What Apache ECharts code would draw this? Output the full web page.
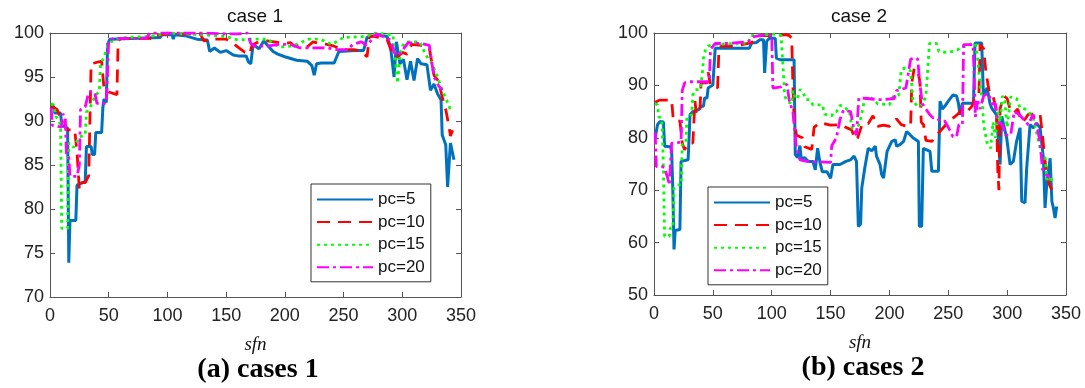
<!DOCTYPE html>
<html lang="en">
<head>
    <meta charset="UTF-8">
    <script src="https://cdn.jsdelivr.net/npm/echarts@6/dist/echarts.min.js"></script>
    <title>case 1 / case 2</title>
</head>
<body style="margin:0; background:#fff">
<div id="main" style="width:1085px; height:388px"></div>
<script>

    // x ticks, y ticks
    var xTicks = [0, 50, 100, 150, 200, 250, 300, 350];
    var yRange1 = [70, 100, 5];
    var yRange2 = [50, 100, 10];

    var seriesNames = ['pc=5', 'pc=10', 'pc=15', 'pc=20'];

    // case 1  [sfn, value]
    var c1_pc5 = [[1,91.5],[3,91.7],[4,90.9],[9,90.9],[10,89.5],[15,89.2],[16,73.9],[17,78.7],[22,78.7],[23,82.7],[30,83.1],[31,87.1],[35,87.1],[36,86.2],[38,86.2],[39,88.7],[44,88.7],[45,91.5],[46,92.5],[48,92.1],[49,98.7],[51,99.3],[75,99.4],[94,99.5],[95,99.8],[104,99.8],[105,99.3],[106,99.8],[115,99.7],[125,99.3],[134,99.2],[136,97.9],[140,98.3],[145,97.8],[150,98.0],[156,97.5],[160,97.4],[167,97.4],[169,96.7],[171,96.5],[173,98.7],[178,98.2],[182,99.1],[186,98.5],[190,97.9],[194,97.6],[200,97.3],[205,97.1],[210,96.9],[219,96.8],[223,96.3],[225,95.2],[227,96.5],[231,96.6],[242,96.6],[246,97.9],[260,98.0],[267,98.0],[270,99.5],[280,99.8],[287,99.6],[290,98.4],[293,95.0],[295,99.0],[298,96.5],[301,97.0],[304,94.7],[307,96.8],[310,94.6],[313,97.1],[316,96.5],[321,96.4],[324,93.5],[327,94.2],[330,93.1],[333,92.4],[334,88.4],[337,87.3],[338.6,82.5],[341,87.5],[344,85.6]];
    var c1_pc10 = [[1,91.7],[6,91.3],[8,90.7],[12,90.2],[14,89.0],[21,89.0],[23,86.5],[25,82.2],[27,83.0],[30,83.0],[33,83.8],[35,96.5],[44,96.8],[46,93.6],[50,93.3],[57,93.0],[58,99.0],[60,99.4],[85,99.4],[88,99.2],[91,99.7],[100,99.9],[128,99.9],[131,99.1],[140,99.3],[150,99.3],[157,98.7],[162,98.2],[166,97.8],[170,97.6],[172,98.6],[176,98.9],[185,99.1],[191,99.0],[200,98.8],[205,98.9],[208,98.5],[212,98.6],[219,98.4],[224,99.0],[230,98.8],[236,98.7],[242,98.5],[250,98.1],[259,98.1],[265,97.9],[270,97.3],[272,99.7],[280,99.5],[287,99.3],[292,97.5],[296,97.3],[300,97.8],[304,97.6],[308,98.7],[316,98.6],[323,98.3],[327,95.2],[331,94.5],[334,92.7],[337,91.3],[340,89.2],[341,88.3],[343,89.0]];
    var c1_pc15 = [[1,92.0],[3,91.8],[5,90.5],[8,90.0],[9,89.2],[10,77.8],[15,77.8],[16,87.5],[20,87.0],[25,88.2],[30,88.4],[31,91.0],[34,91.5],[39,93.0],[42,93.3],[43,96.4],[46,97.3],[49,98.5],[52,99.0],[58,99.3],[65,99.5],[85,99.6],[100,100],[130,99.8],[150,99.6],[160,99.2],[170,99.3],[185,99.3],[195,98.4],[205,98.5],[210,98.7],[220,99.3],[230,99.3],[240,98.7],[250,99.5],[270,99.6],[275,100],[292,99.8],[294,97.0],[296,94.3],[298,97.5],[301,98.8],[305,99.0],[315,99.0],[320,97.5],[325,96.6],[330,95.0],[334,93.5],[338,92.3],[341,91.3]];
    var c1_pc20 = [[1,91.5],[2,89.5],[10,89.3],[11,90.8],[13,90.5],[14,86.3],[16,86.0],[17,83.7],[23,83.7],[25,85.0],[26,91.3],[30,91.6],[33,93.3],[38,93.3],[40,92.0],[48,92.0],[50,99.2],[55,99.4],[82,99.4],[85,100],[130,100],[150,99.9],[160,99.9],[168,100],[171,98.8],[175,98.5],[185,98.5],[195,98.7],[205,98.7],[213,98.3],[236,98.3],[245,98.1],[253,98.1],[258,98.7],[265,99.0],[270,98.6],[278,99.9],[285,99.5],[290,99.2],[293,97.8],[296,97.4],[300,98.0],[305,98.9],[316,98.8],[323,98.6],[327,95.0],[331,94.0],[334,93.5]];

    // case 2  [sfn, value]
    var c2_pc5 = [[1,80.0],[3,82.5],[5,83.1],[8,83.0],[9,78.4],[14,78.3],[15,77.5],[16,70],[17,58.7],[18,62.3],[22,62.5],[23,75.5],[29,75.8],[30.6,84.4],[33,85.0],[38,85.4],[40,86.0],[42,86.0],[43,87.6],[45,87.6],[46,89.5],[50,90.1],[52,97.1],[81,97.1],[83,98.1],[87,98.2],[90,98.7],[93,98.7],[94,92.4],[95.7,98.4],[98,99.0],[103,99.0],[104,95.2],[107,94.9],[119,94.9],[120,76.8],[122,76.2],[124,78.5],[125,76.0],[128,76.2],[131,75.5],[135,75.5],[137,73.9],[139,78.0],[141,75.3],[143,73.5],[147,73.5],[150,72.3],[152,74.9],[158,74.9],[163,75.5],[167,75.8],[170,76.5],[172,75.5],[173.6,63.1],[175.5,63.5],[176.5,70.4],[179,74.2],[182,78.0],[185,77.5],[188,78.4],[189,76.5],[192,74.9],[193.4,73.0],[195,72.3],[198,77.4],[202,79.3],[205,79.6],[206,78.4],[209,78.7],[212,79.3],[214.6,81.2],[217.5,80.6],[220,80.0],[224.6,79.3],[225.4,63.1],[227.4,63.1],[228.8,78.0],[234.5,77.4],[236,73.6],[241.6,73.6],[243,87.0],[245,85.5],[247,86.0],[250,87.0],[254,88.2],[257,88.0],[258.6,86.6],[260,84.4],[262,86.6],[271.4,86.6],[272.7,98.1],[278.4,98.1],[279.8,88.2],[283,89.5],[285.5,86.5],[287,85.6],[291,84.4],[294,74.9],[295.4,84.1],[297,82.5],[299.6,80.0],[302.5,74.9],[305.3,75.5],[308,79.3],[311,81.9],[312.4,67.9],[315.2,67.6],[316.6,74.2],[319.5,82.5],[322.3,81.9],[325,82.8],[328,81.9],[330.8,76.1],[332.2,66.6],[333.6,71.0],[336.5,76.1],[338,67.9],[339.3,66.6],[340.7,64.7],[342.1,66.9]];
    var c2_pc10 = [[1,86.8],[5,87.2],[9,87.2],[10,87.5],[15,87.2],[16.4,83.4],[22,83.2],[24,79.0],[26,77.7],[29,79.0],[33,79.0],[34.8,87.0],[36,84.5],[39,85],[40,90.5],[45,90.5],[46,92.5],[48,90],[54,89.5],[55,96],[57,97.5],[67,97.5],[80,98.0],[87,98.5],[90,99.5],[104,99.5],[112,99.7],[115,99.5],[117,99.0],[118,90],[119,83.5],[121,80.5],[126,80.0],[128,78.3],[134,77.8],[136,82.0],[141,82.9],[150,82.4],[158,82.5],[165,81.8],[168,81.5],[171,79.6],[173,80.0],[177,82.7],[182,82.7],[186,84.2],[190,82.2],[195,82.4],[200,82.2],[206,83.6],[210,82.5],[215,82.2],[218,82.2],[219,90.5],[221,93.2],[224,93.0],[226,90.5],[227,83],[229,82.5],[231,79.5],[236,79.3],[240,80.5],[250,83],[258,84.5],[262,85.5],[266,85.0],[270,86.0],[272,87.3],[276,88.0],[277,97.8],[280,97.0],[282,92.5],[285,88.5],[288,88.0],[291,85.0],[292,74.0],[293,70.0],[294,85.5],[297,88.0],[300,87.5],[303,85.0],[306,84.8],[309,85.5],[312,83.0],[315,83.5],[318,84.5],[322,84.5],[325,84.7],[328,84.5],[330,80.5],[332,76],[334,72.5],[336,71.0],[339,69.5],[342,69.2]];
    var c2_pc15 = [[1,86.5],[3,86.3],[4,84],[6,83.8],[7,82],[8,74.2],[9,61.2],[13,61.2],[14,62.8],[16,62.8],[17,70.4],[20,71.0],[23,71.0],[24,78.7],[27,79],[28,84],[32,84.4],[33,88.2],[35,89.2],[39,89.2],[41,92],[42,95.2],[44,97],[46,97.5],[50,97.8],[80,98.1],[82,99.5],[104,99.8],[108,99.5],[110,92],[111,88],[113,87],[117,86.5],[118,89],[120,87.5],[122,87.5],[124,89.2],[127,88.5],[129,87.3],[132,87.3],[135,86.3],[143,86.3],[145,84.5],[151,84.2],[153,85.0],[155,85],[158,86.2],[161,86.0],[164,85.4],[166,85.2],[168,82.0],[171,81.0],[174,82.5],[176,84],[179,87.5],[183,87.8],[187,87.2],[190,86.5],[200,86.3],[203,87.8],[208,88.2],[210,93.0],[213,93.3],[218,92.8],[220,87.0],[224,86.0],[228,86.3],[231,88.0],[234,98.0],[240,98.0],[242,96.5],[248,96.3],[254,96.5],[258,96.8],[261,97.4],[266,97.4],[270,98.0],[273,98.0],[275,95],[277,90],[279,87],[280,82.5],[283,79],[286,78],[288,83],[290,80],[292,85],[294,83],[296,88],[298,87],[300,82],[303,87.8],[308,87.5],[311,85.7],[315,85.5],[318,85.0],[322,84.0],[326,80],[329,77],[332,76.5],[334,72.0],[337,72.5],[339,71]];
    var c2_pc20 = [[1,81],[2,74.5],[7,74.5],[9,74.3],[12,72],[13,71],[14,71],[15,79],[19,79.0],[23,79.2],[24,89],[26,90.5],[30,90.7],[47,90.7],[48,96.9],[52,98.0],[64,98.0],[73,98.2],[80,98.3],[85,99.3],[93,99.6],[100,99.6],[101,89.5],[108,89.7],[110,90.0],[113,90.2],[115,87],[118,85],[121,78],[124,75.8],[130,75.5],[150,75.3],[151,78.5],[155,80],[158,83.5],[161,85.3],[167,85],[170,81.5],[172,80.5],[174,87.6],[181,87.5],[190,87.3],[196,87.3],[204,87.5],[206,89.0],[214,89.5],[218,95.0],[222,95.3],[224,95],[226,90.0],[228,86.5],[231,85.5],[234,84.5],[237,83.8],[240,83.8],[243,83.2],[247,83.2],[250,82.0],[254,80.2],[257,80.2],[259,82.5],[262,82.5],[263,97.8],[271,97.8],[272,92],[273,84],[275,87],[277,85.5],[280,88.0],[284,88.5],[287,86.5],[290,86.5],[292,83],[296,82.5],[299,80.5],[303,80.5],[306,85],[310,84.5],[314,83.5],[318,82.5],[322,84.5],[326,81.5],[328,79],[330,74],[333,73],[336,72.5]];

    var lineColors = ['#0072BD', '#FF0000', '#00FF00', '#FF00FF'];
    var lineTypes = ['solid', [13, 8], [3, 4], [12, 4, 3, 4]];
    var lineWidths = [3, 2.8, 2.8, 2.8];

    var Chart_Main = echarts.init(document.getElementById('main'));

    var boxColor = '#555';
    var sansFont = 'Liberation Sans, Arial, sans-serif';
    var serifFont = 'Liberation Serif, Times New Roman, serif';

    function xAxisFor(grid, pos) {
        var bottom = pos == 'bottom';
        return {
            type: 'value', gridIndex: grid, position: pos,
            min: 0, max: 350, interval: 50,
            axisLine: {show: true, onZero: false, lineStyle: {color: boxColor, width: 1}},
            axisTick: {show: true, inside: true, length: 5, lineStyle: {color: boxColor}},
            axisLabel: {show: bottom, color: '#222', fontSize: 18, fontFamily: sansFont, margin: 10},
            splitLine: {show: false},
            name: bottom ? 'sfn' : '',
            nameLocation: 'middle',
            nameGap: 38,
            nameTextStyle: {fontFamily: serifFont, fontStyle: 'italic', fontSize: 19, color: '#111'}
        };
    }

    function yAxisFor(grid, pos, range) {
        var left = pos == 'left';
        return {
            type: 'value', gridIndex: grid, position: pos,
            min: range[0], max: range[1], interval: range[2],
            axisLine: {show: true, onZero: false, lineStyle: {color: boxColor, width: 1}},
            axisTick: {show: true, inside: true, length: 5, lineStyle: {color: boxColor}},
            axisLabel: {show: left, color: '#222', fontSize: 18, fontFamily: sansFont, margin: 6},
            splitLine: {show: false}
        };
    }

    var allData = [[c1_pc5, c1_pc10, c1_pc15, c1_pc20], [c2_pc5, c2_pc10, c2_pc15, c2_pc20]];
    var series = [];
    for (var g = 0; g < 2; g++) {
        for (var i = 0; i < 4; i++) {
            series.push({
                name: seriesNames[i],
                type: 'line',
                xAxisIndex: g * 2,
                yAxisIndex: g * 2,
                data: allData[g][i],
                symbol: 'none',
                lineStyle: {color: lineColors[i], width: lineWidths[i], type: lineTypes[i]},
                itemStyle: {color: lineColors[i], opacity: 0},
                z: 2 + i
            });
        }
    }

    function legendAt(left, top) {
        return {
            data: seriesNames,
            orient: 'vertical',
            left: left, top: top,
            itemWidth: 56, itemHeight: 16, itemGap: 5.6,
            padding: [7, 6, 6, 5],
            backgroundColor: '#fff',
            borderColor: '#333', borderWidth: 1,
            selectedMode: false,
            itemStyle: {opacity: 0},
            textStyle: {fontSize: 17, fontFamily: sansFont, color: '#111', lineHeight: 16}
        };
    }

    option = {
        animation: false,
        grid: [
            {left: 50, top: 33, width: 411, height: 264},
            {left: 654, top: 33, width: 412, height: 262}
        ],
        xAxis: [xAxisFor(0, 'bottom'), xAxisFor(0, 'top'), xAxisFor(1, 'bottom'), xAxisFor(1, 'top')],
        yAxis: [yAxisFor(0, 'left', yRange1), yAxisFor(0, 'right', yRange1),
                yAxisFor(1, 'left', yRange2), yAxisFor(1, 'right', yRange2)],
        legend: [legendAt(311, 184), legendAt(708, 187)],
        graphic: [
            {type: 'text', x: 255, y: 17, style: {text: 'case 1', font: '19px ' + sansFont, fill: '#111', textAlign: 'center', textVerticalAlign: 'middle'}},
            {type: 'text', x: 859, y: 17, style: {text: 'case 2', font: '19px ' + sansFont, fill: '#111', textAlign: 'center', textVerticalAlign: 'middle'}},
            {type: 'text', x: 258, y: 370, style: {text: '(a) cases 1', font: 'bold 28px ' + serifFont, fill: '#000', textAlign: 'center', textVerticalAlign: 'middle'}},
            {type: 'text', x: 863, y: 368, style: {text: '(b) cases 2', font: 'bold 28px ' + serifFont, fill: '#000', textAlign: 'center', textVerticalAlign: 'middle'}}
        ],
        series: series
    };

    Chart_Main.setOption(option);

</script>
</body>
</html>
